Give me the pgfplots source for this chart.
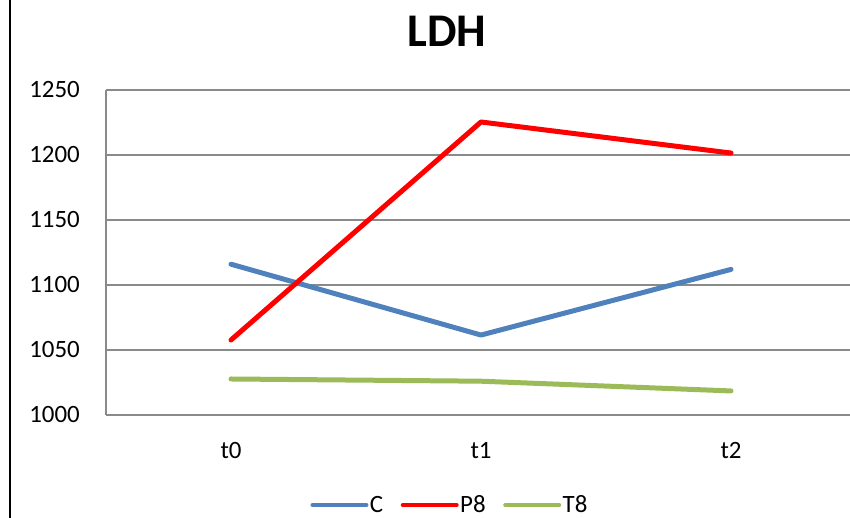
\documentclass[border=0pt]{standalone}
\usepackage{pgfplots}
\pgfplotsset{compat=1.18}
\usepackage{fontspec}
\setmainfont{Carlito}

\definecolor{serC}{HTML}{4F81BD}
\definecolor{serP}{HTML}{FF0000}
\definecolor{serT}{HTML}{9BBB59}
\definecolor{gridgray}{HTML}{8A8A8A}

\begin{document}
\begin{tikzpicture}
% chart frame edge on the left
\draw[line width=2bp, black] (9.5bp,0bp) -- (9.5bp,518bp);

\begin{axis}[
  at={(106bp,103bp)}, anchor=south west,
  scale only axis, width=744bp, height=325bp,
  xmin=-0.5, xmax=2.476, ymin=1000, ymax=1250,
  axis y line*=left, axis x line*=bottom,
  axis line style={gridgray, line width=1.5bp},
  ymajorgrids, grid style={gridgray, line width=1.5bp},
  ytick={1000,1050,...,1250},
  xtick={0,1,2}, xticklabels={t0,t1,t2},
  major tick length=0pt,
  /pgf/number format/assume math mode=true,
  /pgf/number format/1000 sep={},
  tick label style={font=\fontsize{25}{30}\selectfont, inner sep=0pt},
  yticklabel style={anchor=base east, xshift=-26bp, yshift=-8bp},
  xticklabel style={anchor=base, yshift=-43bp},
  clip=false,
  legend columns=3,
  legend style={draw=none, fill=none, at={(0.462,-0.277)}, anchor=center,
    font=\fontsize{25}{30}\selectfont,
    nodes={inner sep=1.5bp},
    /tikz/every even column/.append style={column sep=16bp}},
  legend image code/.code={\draw[#1, line width=4bp, line cap=round] (0bp,0bp) -- (54bp,0bp);},
  every axis plot/.append style={line width=5bp, line cap=round, line join=round},
]
\addplot[serC] coordinates {(0,1116) (1,1061.5) (2,1112)};
\addlegendentry{C}
\addplot[serP] coordinates {(0,1057.7) (1,1225.4) (2,1201.5)};
\addlegendentry{P8}
\addplot[serT] coordinates {(0,1027.7) (1,1026) (2,1018.5)};
\addlegendentry{T8}
\end{axis}

\node[anchor=base, font=\bfseries\fontsize{47}{56}\selectfont, inner sep=0pt] at (447bp,471bp) {LDH};

\pgfresetboundingbox
\useasboundingbox (0bp,0bp) rectangle (850bp,518bp);
\end{tikzpicture}
\end{document}
